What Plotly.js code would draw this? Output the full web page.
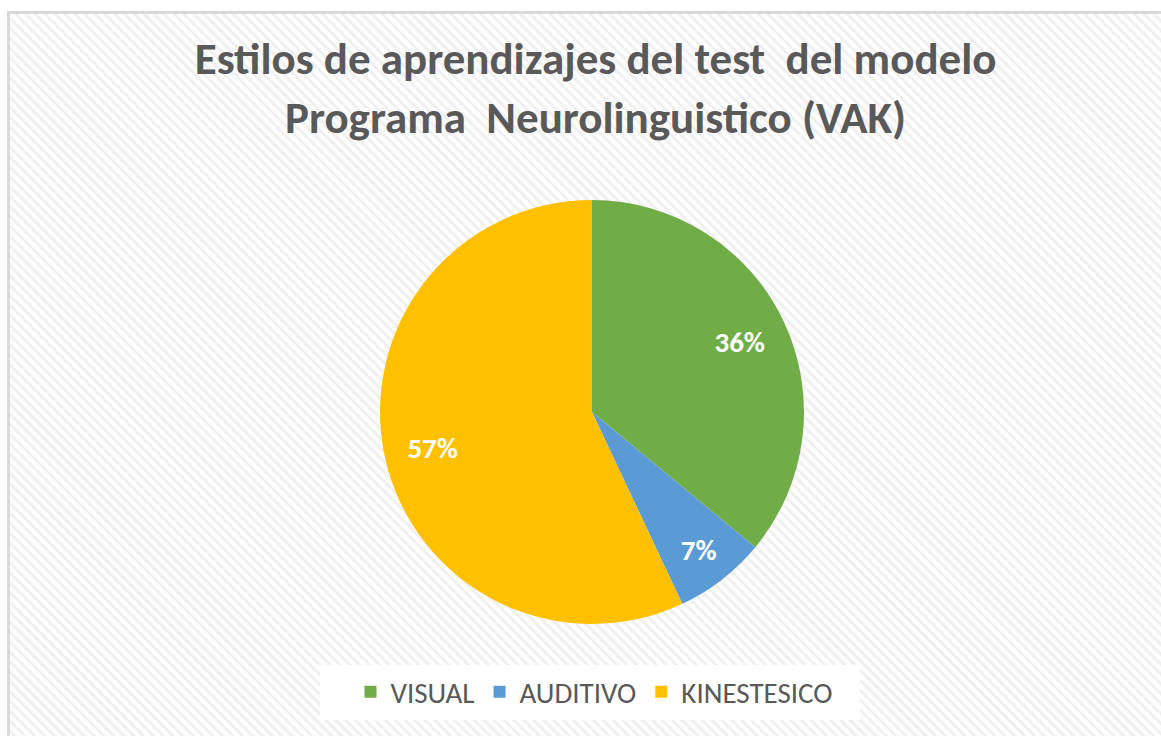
<!DOCTYPE html>
<html>
<head>
<meta charset="utf-8">
<script src="https://cdn.plot.ly/plotly-3.0.1.min.js"></script>
<style>
  html, body { margin: 0; padding: 0; background: #ffffff; }
  #wrap { position: absolute; left: 0; top: 0; width: 1161px; height: 736px; background: #ffffff; overflow: hidden; }
  #frame { position: absolute; left: 7px; top: 11px; width: 1170px; height: 740px;
    border: 3px solid #d9d9d9; box-sizing: border-box;
    background: repeating-linear-gradient(45deg, #ffffff 0px, #ffffff 3px, #f0f0f0 4px, #f0f0f0 6px, #ffffff 7px); }
  #chart { position: absolute; left: 0; top: 0; width: 1161px; height: 736px; }
</style>
</head>
<body>
<div id="wrap">
  <div id="frame"></div>
  <div id="chart"></div>
</div>
<script>
const categories = ["VISUAL", "AUDITIVO", "KINESTESICO"];
const values = [36, 7, 57];
const colors = ["#70ad47", "#5b9bd5", "#ffc000"];
const titleText = "Estilos de aprendizajes del test  del modelo<br>Programa  Neurolinguistico (VAK)";

const W = 1161, H = 736;
const cx = 592, cy = 412, r = 212;
const dom = {
  x: [(cx - r) / W, (cx + r) / W],
  y: [(H - cy - r) / H, (H - cy + r) / H]
};

// coloured slices (no text)
const slices = {
  type: "pie",
  labels: categories,
  values: values,
  sort: false,
  direction: "clockwise",
  rotation: 0,
  marker: { colors: colors, line: { width: 0 } },
  textinfo: "none",
  hoverinfo: "label+percent",
  domain: dom
};

// transparent ring carrying the data labels at ~0.77 of the radius
const labelsRing = {
  type: "pie",
  labels: categories,
  values: values,
  sort: false,
  direction: "clockwise",
  rotation: 0,
  hole: 0.54,
  showlegend: false,
  marker: { colors: ["rgba(0,0,0,0)", "rgba(0,0,0,0)", "rgba(0,0,0,0)"], line: { width: 0 } },
  textinfo: "percent",
  textposition: "inside",
  insidetextorientation: "horizontal",
  textfont: { family: "Calibri, Lato, sans-serif", size: 29, color: "#ffffff", weight: "bold" },
  hoverinfo: "skip",
  domain: dom
};

const layout = {
  width: W, height: H,
  margin: { l: 0, r: 0, t: 0, b: 0 },
  paper_bgcolor: "rgba(0,0,0,0)",
  plot_bgcolor: "rgba(0,0,0,0)",
  title: {
    text: "<b>" + titleText + "</b>",
    font: { family: "Calibri, Lato, sans-serif", size: 45, color: "#595959" },
    x: 0.513, xanchor: "center",
    y: 1 - 74 / H, yanchor: "middle"
  },
  showlegend: true,
  legend: {
    orientation: "h",
    x: 594 / W, xanchor: "center",
    y: 1 - 692 / H, yanchor: "middle",
    bgcolor: "rgba(0,0,0,0)",
    font: { family: "Calibri, Lato, sans-serif", size: 29, color: "#595959" },
    traceorder: "normal"
  },
  shapes: [{
    type: "rect", xref: "paper", yref: "paper", layer: "below",
    x0: 320 / W, x1: 860 / W, y0: 1 - 720 / H, y1: 1 - 665 / H,
    fillcolor: "#ffffff", line: { width: 0 }
  }]
};

Plotly.newPlot("chart", [slices, labelsRing], layout, { displayModeBar: false, staticPlot: true });
</script>
</body>
</html>
